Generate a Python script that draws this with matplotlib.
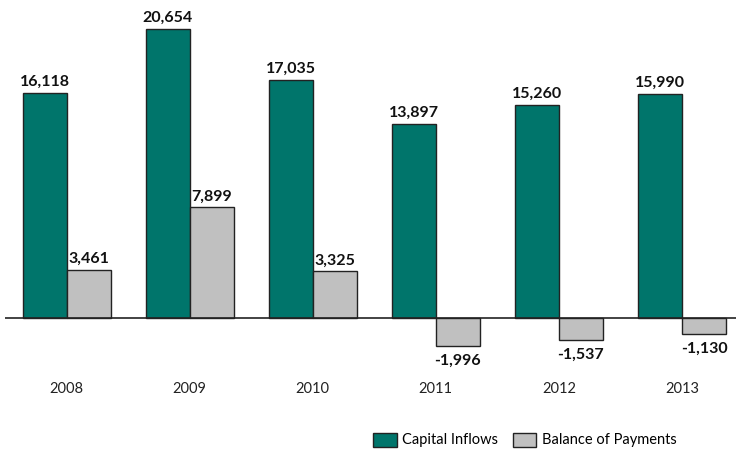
import matplotlib
matplotlib.use("Agg")
import matplotlib.pyplot as plt
import numpy as np
from matplotlib.patches import Patch

years = ["2008", "2009", "2010", "2011", "2012", "2013"]
capital_inflows = [16118, 20654, 17035, 13897, 15260, 15990]
balance_of_payments = [3461, 7899, 3325, -1996, -1537, -1130]

teal = "#00756B"
grey = "#C0C0C0"
edge = "#222222"

plt.rcParams['font.family'] = ['Lato', 'DejaVu Sans']

fig = plt.figure(figsize=(7.36, 4.5), dpi=100)
ax = fig.add_axes([5/736, 1 - 360/450, 1 - 5/736, 360/450])

x = np.arange(len(years))
w = 44/123
ax.bar(x - w/2, capital_inflows, w, color=teal, edgecolor=edge, linewidth=1.0, zorder=2)
ax.bar(x + w/2, balance_of_payments, w, color=grey, edgecolor=edge, linewidth=1.0, zorder=2)

ax.set_xlim(-0.5, 5.5 - 7.5/123)
ax.set_ylim(-3002, 22730)
ax.axhline(0, color=edge, linewidth=1.2, zorder=3)

for xi, v in zip(x, capital_inflows):
    ax.annotate(f"{v:,}", (xi - w/2, v), xytext=(0, 3), textcoords="offset points",
                ha="center", va="bottom", fontsize=11.5, fontweight="bold", color="#111111")
for xi, v in zip(x, balance_of_payments):
    if v >= 0:
        ax.annotate(f"{v:,}", (xi + w/2, v), xytext=(0, 3), textcoords="offset points",
                    ha="center", va="bottom", fontsize=11.5, fontweight="bold", color="#111111")
    else:
        ax.annotate(f"{v:,}", (xi + w/2, v), xytext=(0, -6), textcoords="offset points",
                    ha="center", va="top", fontsize=11.5, fontweight="bold", color="#111111")

for xi, y in zip(x, years):
    ax.text(xi, -5100, y, ha="center", va="center", fontsize=10.5, color="#222222", clip_on=False)

ax.axis("off")

handles = [Patch(facecolor=teal, edgecolor=edge, label="Capital Inflows"),
           Patch(facecolor=grey, edgecolor=edge, label="Balance of Payments")]
fig.legend(handles=handles, loc="center", bbox_to_anchor=(525/736, 1 - 440/450), ncol=2,
           frameon=False, fontsize=10.5, handlelength=1.6, handleheight=1.1,
           handletextpad=0.4, columnspacing=1.0)

fig.savefig("out.png", dpi=100)
